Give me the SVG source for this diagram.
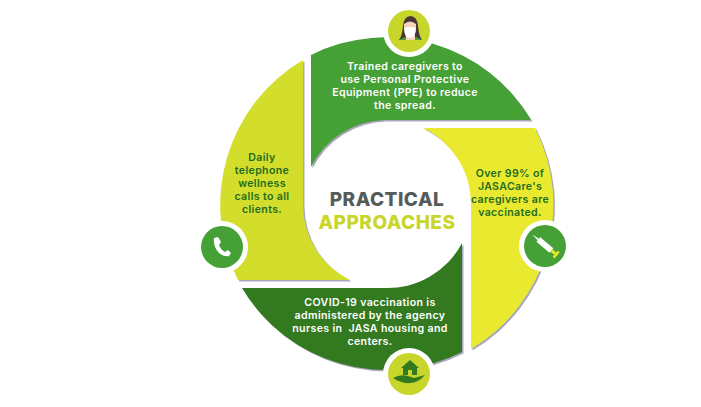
<svg xmlns="http://www.w3.org/2000/svg" width="701" height="407" viewBox="0 0 701 407">
<style>
.t{font-family:"Inter","Liberation Sans",sans-serif;font-size:10.6px;letter-spacing:.35px;font-weight:600;text-anchor:middle;white-space:pre}
.w{fill:#fff}
.d{fill:#1f6b1f}
.h{font-family:"Inter","Liberation Sans",sans-serif;font-size:19px;letter-spacing:.5px;font-weight:800;text-anchor:middle}
.ring{fill:#fff}
.lime{fill:#c8d62c}
.grn{fill:#45a035}
.sh{fill:#a9a7bd}
</style>
<defs>
<path id="pTop" d="M311,55 A168,168 0 0 1 531,120 L384,120 A85,85 0 0 0 311,167 Z"/>
<path id="pRight" d="M423,128 L535,128 A168,168 0 0 1 471,349 L471,205 A84,84 0 0 0 423,128 Z"/>
<path id="pBottom" d="M462,243 L462,352 A168,168 0 0 1 242,288 L384,288 A84,84 0 0 0 462,243 Z"/>
<path id="pLeft" d="M303,60 A168,168 0 0 0 238,280 L350,280 A84,84 0 0 1 303,205 Z"/>
</defs>
<rect width="701" height="407" fill="#fff"/>
<g id="connectors"></g>
<g id="node-top">
<use href="#pTop" class="sh" x="1.5" y="1.5"/>
<use href="#pTop" fill="#45a035"/>
<text class="t w"><tspan x="405" y="70">Trained caregivers to</tspan><tspan x="405" y="83">use Personal Protective</tspan><tspan x="405" y="96">Equipment (PPE) to reduce</tspan><tspan x="405" y="109">the spread.</tspan></text>
<circle class="ring" cx="409" cy="31" r="26"/>
<circle class="lime" cx="409" cy="31" r="21"/>
<path d="M399,40 Q402,36 403,26 Q404,16 410.500,16 Q417,16 418,26 Q419,36 422,40 Z" fill="#4a3632"/>
<path d="M399,40 L422,40 L416,37 L405,37 Z" fill="#45a035"/>
<rect x="406" y="35" width="9" height="5" fill="#f6d3bd"/>
<path d="M404,24 Q410,19 416,24 L416,28 L404,28 Z" fill="#f6d3bd"/>
<path d="M404,28 Q410,26 416,28 Q416,38 410,38 Q404,38 404,28 Z" fill="#fff"/>
</g>
<g id="node-right">
<use href="#pRight" class="sh" x="1.5" y="1.5"/>
<use href="#pRight" fill="#e9ea30"/>
<text class="t d"><tspan x="510" y="177">Over 99% of</tspan><tspan x="510" y="190">JASACare's</tspan><tspan x="510" y="203">caregivers are</tspan><tspan x="510" y="216">vaccinated.</tspan></text>
<circle class="ring" cx="545" cy="246" r="26"/>
<circle class="grn" cx="545" cy="246" r="21"/>
<g transform="rotate(-50 546 246)">
<path d="M543,236 L549,236 L549,253 L543,253 Z" fill="#fff"/>
<path d="M545,236 L546,228 L547,236 Z" fill="#fff"/>
<rect x="544.500" y="253" width="3" height="5" fill="#e9ea30"/>
<rect x="542" y="258" width="8" height="2.500" fill="#e9ea30"/>
</g>
</g>
<g id="node-bottom">
<use href="#pBottom" class="sh" x="1.5" y="1.5"/>
<use href="#pBottom" fill="#33791f"/>
<text class="t w"><tspan x="370" y="306">COVID-19 vaccination is</tspan><tspan x="370" y="319">administered by the agency</tspan><tspan x="370" y="332">nurses in  JASA housing and</tspan><tspan x="370" y="345">centers.</tspan></text>
<circle class="ring" cx="409" cy="374" r="26"/>
<circle class="lime" cx="409" cy="374" r="21"/>
<path d="M410,360 L419,368 L417,368 L417,375 L412,375 L412,370 L408,370 L408,375 L403,375 L403,368 L401,368 Z" fill="#33791f"/>
<path d="M393,378 Q400,374 408,376 L414,378 L425,375 Q418,383 410,383 Q402,384 393,378 Z" fill="#33791f"/>
</g>
<g id="node-left">
<use href="#pLeft" class="sh" x="1.5" y="1.5"/>
<use href="#pLeft" fill="#d2de2b"/>
<text class="t d"><tspan x="262" y="161">Daily</tspan><tspan x="262" y="174">telephone</tspan><tspan x="262" y="187">wellness</tspan><tspan x="262" y="200">calls to all</tspan><tspan x="262" y="213">clients.</tspan></text>
<circle class="ring" cx="222" cy="247" r="26"/>
<circle class="grn" cx="222" cy="247" r="21"/>
<path d="M214,238 L218,237 L221,242 L219,245 Q221,250 225,252 L228,250 L231,253 L229,256 Q224,257 219,253 Q213,247 214,238 Z" fill="#fff"/>
</g>
<g id="node-center">
<text class="h" x="387" y="206" fill="#565a58">PRACTICAL</text>
<text class="h" x="387" y="229" fill="#c8d62c">APPROACHES</text>
</g>
</svg>
